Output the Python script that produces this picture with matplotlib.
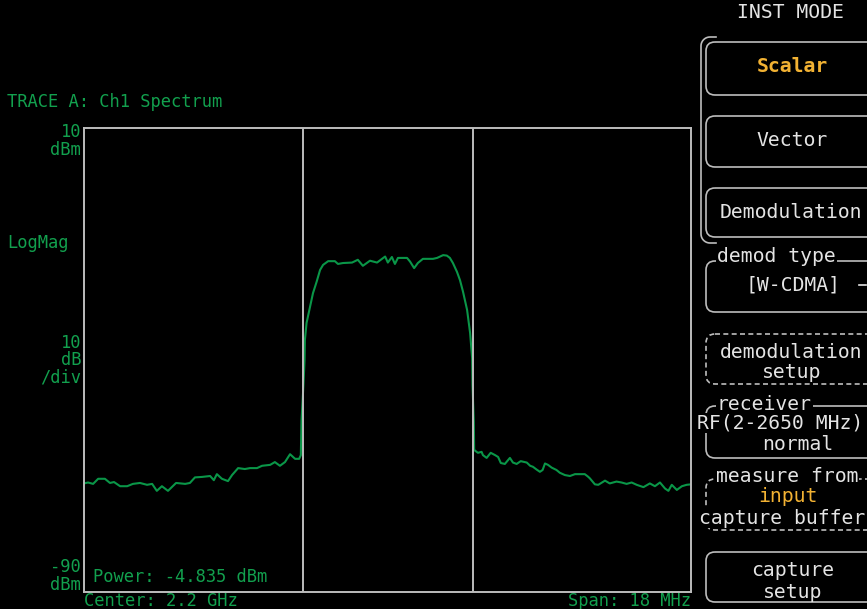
import numpy as np
import matplotlib.pyplot as plt
from matplotlib.patches import FancyBboxPatch

# measurement setup
center_ghz = 2.2
span_mhz = 18.0
ref_dbm = 10
db_per_div = 10
n_div = 10
power_dbm = -4.835

# channel integration edges (MHz from center)
chan_edges_mhz = [-2.52, 2.53]

# trace A, offsets from center in MHz and levels in dBm
offset_mhz = [
    -9.00, -8.88, -8.73, -8.58, -8.38, -8.23, -8.11, -7.93, -7.72, -7.55,
    -7.34, -7.13, -6.98, -6.84, -6.69, -6.51, -6.27, -6.00, -5.86, -5.71,
    -5.50, -5.26, -5.15, -5.06, -4.91, -4.73, -4.61, -4.43, -4.23, -4.08,
    -3.87, -3.72, -3.48, -3.34, -3.19, -3.04, -2.89, -2.74, -2.62, -2.57,
    -2.55, -2.49, -2.46, -2.45, -2.40, -2.30, -2.21, -2.10, -2.00, -1.91,
    -1.76, -1.56, -1.47, -1.32, -1.05, -0.88, -0.73, -0.52, -0.31, -0.07,
    0.01, 0.13, 0.22, 0.31, 0.58, 0.67, 0.79, 0.90, 1.05, 1.35,
    1.47, 1.65, 1.76, 1.85, 1.94, 2.06, 2.15, 2.24, 2.36, 2.45,
    2.51, 2.52, 2.56, 2.57, 2.59, 2.68, 2.79, 2.83, 2.94, 3.06,
    3.19, 3.28, 3.36, 3.48, 3.63, 3.72, 3.83, 3.95, 4.13, 4.23,
    4.31, 4.42, 4.52, 4.60, 4.67, 4.76, 4.87, 5.01, 5.11, 5.26,
    5.41, 5.56, 5.85, 5.94, 6.00, 6.15, 6.25, 6.45, 6.59, 6.79,
    6.94, 7.09, 7.24, 7.39, 7.59, 7.78, 7.93, 8.08, 8.23, 8.33,
    8.43, 8.58, 8.73, 8.87, 9.00,
]
level_dbm = [
    -66.6, -66.4, -66.7, -65.6, -65.6, -66.5, -66.3, -67.2, -67.2, -66.7,
    -66.5, -66.9, -66.7, -68.2, -67.2, -68.2, -66.5, -66.7, -66.5, -65.3,
    -65.2, -65.0, -65.9, -64.6, -65.6, -66.1, -64.8, -63.3, -63.5, -63.3,
    -63.3, -62.8, -62.6, -62.0, -62.8, -62.0, -60.3, -61.3, -61.3, -60.5,
    -53.1, -45.0, -40.0, -35.7, -32.0, -28.6, -25.6, -23.1, -20.6, -19.5,
    -18.7, -18.7, -19.3, -19.1, -19.0, -18.4, -19.7, -18.6, -19.0, -17.7,
    -19.0, -17.8, -19.3, -18.0, -18.0, -18.8, -20.2, -19.1, -18.2, -18.2,
    -18.0, -17.4, -17.5, -18.0, -19.1, -21.0, -22.8, -25.3, -29.2, -34.2,
    -39.6, -45.4, -53.4, -59.4, -59.5, -60.0, -59.8, -60.5, -61.1, -60.0,
    -60.5, -60.9, -62.2, -62.4, -61.1, -62.1, -62.4, -61.8, -62.1, -62.8,
    -63.0, -63.6, -64.1, -63.7, -62.3, -62.6, -63.2, -63.7, -64.3, -64.8,
    -65.0, -64.6, -64.6, -65.1, -65.5, -66.8, -66.9, -66.0, -66.6, -66.2,
    -66.4, -66.7, -66.4, -66.9, -67.4, -66.6, -67.2, -66.4, -67.7, -68.2,
    -66.9, -68.0, -67.2, -66.9, -66.8,
]

GREEN = '#12a04e'
TRACE = '#0a9648'
FRAME = '#bdbdbd'
SOFT = '#e4e4e4'
ORANGE = '#f2b233'
MONO = 'DejaVu Sans Mono'

W, H = 867, 609
fig = plt.figure(figsize=(W / 100, H / 100), dpi=100, facecolor='black')

# spectrum grid area
left, right, top, bottom = 84, 691, 128, 592
ax = fig.add_axes([left / W, 1 - bottom / H, (right - left) / W, (bottom - top) / H])
ax.set_facecolor('black')

center_mhz = center_ghz * 1000
freqs = [center_mhz + f for f in offset_mhz]
ax.plot(freqs, level_dbm, color=TRACE, lw=1.5, zorder=2)
for e in chan_edges_mhz:
    ax.axvline(center_mhz + e, color=FRAME, lw=1.4, zorder=3)

ax.set_xlim(center_mhz - span_mhz / 2, center_mhz + span_mhz / 2)
ax.set_ylim(ref_dbm - db_per_div * n_div, ref_dbm)
ax.set_xticks([])
ax.set_yticks([])
for s in ax.spines.values():
    s.set_color(FRAME)
    s.set_linewidth(1.4)

# overlay in pixel units for annotations and softkey panel
ov = fig.add_axes([0, 0, 1, 1], zorder=5)
ov.set_xlim(0, W)
ov.set_ylim(H, 0)
ov.axis('off')


def txt(x, y, s, color=GREEN, size=12.3, ha='left', **kw):
    ov.text(x, y, s, color=color, fontsize=size, ha=ha, va='center',
            family=MONO, **kw)


def stack(x, y, s):
    # right-aligned multi-line scale annotation
    ov.text(x, y, s, color=GREEN, fontsize=12.3, ha='right', va='center',
            multialignment='right', family=MONO, linespacing=0.95)


txt(7, 102, 'TRACE A: Ch1 Spectrum')
stack(81, 141, f'{ref_dbm}\ndBm')
txt(7, 243, 'LogMag')
stack(81, 360, f'{db_per_div}\ndB\n/div')
stack(81, 576, f'{ref_dbm - db_per_div * n_div}\ndBm')
txt(93, 577, f'Power: {power_dbm} dBm')
txt(84, 601, f'Center: {center_ghz:g} GHz')
txt(691, 601, f'Span: {span_mhz:g} MHz', ha='right')

# softkey panel
PS = 14.2


def key(y0, y1, dashed=False):
    ls = (0, (3, 2)) if dashed else '-'
    ov.add_patch(FancyBboxPatch((706, y0), 200, y1 - y0,
                                boxstyle='round,pad=0,rounding_size=9',
                                fill=False, ec=FRAME, lw=1.2, ls=ls,
                                clip_on=False))


def label(x, y, s):
    ov.text(x, y, s, color=SOFT, fontsize=PS, ha='left', va='center', family=MONO,
            bbox=dict(facecolor='black', edgecolor='none', pad=0.5))


txt(790, 12, 'INST MODE', color=SOFT, size=PS, ha='center')

# bracket grouping the mode keys
r = 9
th = np.linspace(np.pi / 2, np.pi, 12)
top_arc_x = 710 + r * np.cos(th)
top_arc_y = 46 - r * np.sin(th)
bot_arc_x = 710 + r * np.cos(th[::-1])
bot_arc_y = 234 + r * np.sin(th[::-1])
ov.plot(np.concatenate([[716], top_arc_x, bot_arc_x, [716]]),
        np.concatenate([[37], top_arc_y, bot_arc_y, [243]]),
        color=FRAME, lw=1.2)

key(42, 95)
txt(792, 67, 'Scalar', color=ORANGE, size=PS, ha='center', weight='bold')
key(116, 167)
txt(792, 140, 'Vector', color=SOFT, size=PS, ha='center')
key(188, 237)
txt(720, 212, 'Demodulation', color=SOFT, size=PS)

key(261, 312)
label(717, 257, 'demod type')
txt(793, 285, '[W-CDMA]', color=SOFT, size=PS, ha='center')
ov.plot([859, 866], [285, 285], color=SOFT, lw=1.2)

key(334, 384, dashed=True)
txt(720, 352, 'demodulation', color=SOFT, size=PS)
txt(792, 373, 'setup', color=SOFT, size=PS, ha='center')

key(406, 458)
label(717, 404, 'receiver')
txt(697, 423, 'RF(2-2650 MHz)', color=SOFT, size=PS,
    bbox=dict(facecolor='black', edgecolor='none', pad=0.3))
txt(798, 445, 'normal', color=SOFT, size=PS, ha='center')

key(479, 530, dashed=True)
label(716, 477, 'measure from')
txt(758, 497, 'input', color=ORANGE, size=PS)
txt(699, 518, 'capture buffer', color=SOFT, size=PS,
    bbox=dict(facecolor='black', edgecolor='none', pad=0.3))

key(552, 602)
txt(793, 570, 'capture', color=SOFT, size=PS, ha='center')
txt(793, 592, 'setup', color=SOFT, size=PS, ha='center')

fig.savefig('out.png', dpi=100, facecolor='black')
